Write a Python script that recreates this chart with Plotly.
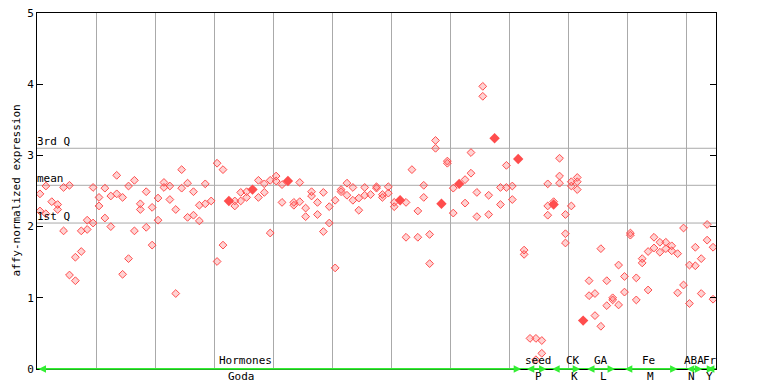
import plotly.graph_objects as go

# ---- data ----
rep_a = [2.46, 2.57, 2.35, 2.31, 2.55, 2.58, 1.57, 1.94, 2.09, 2.55,
         2.41, 2.54, 2.43, 2.72, 2.41, 2.57, 2.65, 2.32, 2.49, 2.27,
         2.40, 2.62, 2.57, 2.24, 2.80, 2.61, 2.49, 2.30, 2.60, 2.36,
         2.89, 2.80, None, 2.36, 2.48, 2.49, None, 2.65, 2.60, 2.65,
         2.71, 2.59, None, 2.34, 2.62, 2.26, 2.49, 2.34, 2.48, 2.28,
         2.37, 2.52, 2.61, 2.55, 2.40, 2.55, 2.45, 2.56, 2.45, 2.56,
         2.34, None, 2.34, 2.80, 2.22, 2.58, 1.89, 3.21, None, 2.92,
         2.54, None, 2.66, 3.04, 2.48, 3.97, 2.44, None, 2.55, 2.86,
         2.57, None, 1.67, 0.43, 0.43, 0.40, 2.60, 2.35, 2.96, 2.17,
         2.63, 2.69, None, 1.24, 1.06, 1.69, 1.24, 1.00, 1.46, 1.30,
         1.91, 1.28, 1.55, 1.65, 1.85, 1.78, 1.78, 1.73, 1.62, 1.98,
         1.46, 1.71, 1.55, 2.03, 1.71]
rep_b = [2.22, 2.18, None, 2.24, 1.94, 1.32, 1.24, 1.65, 1.96, 2.05,
         2.29, 2.12, 2.00, 2.46, 1.33, 1.55, 1.94, 2.24, 1.99, 1.74,
         2.09, 2.55, 2.38, 1.06, 2.54, 2.13, 2.16, 2.08, 2.32, None,
         1.51, 1.74, None, 2.29, 2.36, 2.41, None, 2.41, 2.48, 1.91,
         2.64, 2.34, None, 2.30, 2.35, 2.14, 2.43, 2.17, 1.93, 2.05,
         1.42, 2.49, 2.44, 2.37, 2.23, 2.44, None, 2.54, 2.41, 2.47,
         2.28, None, 1.85, None, 1.85, 2.41, 1.48, 3.10, None, 2.89,
         2.19, None, 2.33, 2.75, 2.14, 3.83, 2.17, None, 2.31, 2.55,
         2.38, None, 1.61, None, 0.13, 0.22, 2.29, None, 2.71, 1.90,
         2.57, 2.63, None, 1.03, 0.75, 0.60, 0.89, 0.97, 0.90, 1.08,
         1.88, 0.97, 1.49, 1.11, 1.70, 1.64, 1.69, 1.66, 1.07, 1.18,
         0.92, 1.45, 1.06, 1.81, 0.98]
rep_c_idx = [86, 88, 89, 90, 91]
rep_c_val = [2.16, 2.61, 1.77, 2.29, 2.52]
filled_idx = [32, 36, 42, 61, 68, 71, 77, 81, 87, 92]
filled_val = [2.36, 2.52, 2.64, 2.37, 2.32, 2.60, 3.24, 2.95, 2.31, 0.68]

quartile_names = ["3rd Q", "mean", "1st Q"]
quartile_vals = [3.10, 2.58, 2.05]

group_top = ["Hormones", "seed", "CK", "GA", "Fe", "ABA", "Fr"]
group_bottom = ["Goda", "P", "K", "L", "M", "N", "Y"]
group_start = [0.0, 82.7, 87.0, 92.9, 99.3, 109.8, 113.2]
group_end = [82.0, 86.3, 92.0, 97.9, 108.5, 112.7, 114.7]
top_label_x = [35.3, 84.9, 90.7, 95.6, 103.6, 111.2, 113.9]
bottom_label_x = [34.6, 84.9, 91.0, 95.9, 103.9, 110.8, 113.9]

n_samples = len(rep_a)
xs = [i + 0.5 for i in range(n_samples)]

RED = "#ff4d4d"
FONT = "DejaVu Sans Mono"

# page body has an 8px default margin: compensate in the figure margins
ML, MR, MT, MB = 29, 60, 5, 22.5
PLOT_W = 768 - ML - MR

fig = go.Figure()
hollow = dict(symbol="diamond", size=6, color="rgba(255,77,77,0.25)",
              line=dict(color=RED, width=1))
fig.add_trace(go.Scatter(x=xs, y=rep_a, mode="markers", marker=hollow, showlegend=False))
fig.add_trace(go.Scatter(x=xs, y=rep_b, mode="markers", marker=hollow, showlegend=False))
fig.add_trace(go.Scatter(x=[i + 0.5 for i in rep_c_idx], y=rep_c_val, mode="markers",
                         marker=hollow, showlegend=False))
fig.add_trace(go.Scatter(x=[i + 0.5 for i in filled_idx], y=filled_val, mode="markers",
                         marker=dict(symbol="diamond", size=8, color=RED, line=dict(width=0)),
                         showlegend=False))

shapes = []
for v in quartile_vals:
    shapes.append(dict(type="line", xref="paper", x0=0, x1=1, yref="y", y0=v, y1=v,
                       line=dict(color="#aaaaaa", width=1), layer="below"))
shapes.append(dict(type="line", xref="paper", x0=0, x1=1, yref="y", y0=0, y1=0,
                   line=dict(color="#33ee33", width=2)))

annotations = []
for name, v in zip(quartile_names, quartile_vals):
    annotations.append(dict(xref="paper", x=0, xanchor="left", yref="y", y=v, yanchor="bottom",
                            text=name, showarrow=False, font=dict(family=FONT, size=11, color="black"),
                            borderpad=0, xshift=-1, yshift=-1))
for s, e in zip(group_start, group_end):
    annotations.append(dict(xref="x", yref="y", x=e, y=0, axref="x", ayref="y", ax=s, ay=0,
                            text="", showarrow=True, arrowside="end+start", arrowhead=2,
                            arrowsize=1, arrowwidth=1.5, arrowcolor="#33ee33", standoff=0,
                            startstandoff=0))
for t, x in zip(group_top, top_label_x):
    annotations.append(dict(xref="x", x=x, yref="y", y=0, yanchor="bottom", text=t,
                            showarrow=False, font=dict(family=FONT, size=11, color="black"),
                            borderpad=0, yshift=1))
for t, x in zip(group_bottom, bottom_label_x):
    annotations.append(dict(xref="x", x=x, yref="y", y=0, yanchor="top", text=t,
                            showarrow=False, font=dict(family=FONT, size=11, color="black"),
                            borderpad=0, yshift=0))
annotations.append(dict(xref="paper", x=-ML / PLOT_W, xanchor="left", yref="paper", y=0.5,
                        yanchor="middle", text="affy-normalized expression", textangle=-90,
                        showarrow=False, borderpad=0,
                        font=dict(family=FONT, size=11, color="black")))

fig.update_layout(
    width=768, height=384,
    margin=dict(l=ML, r=MR, t=MT, b=MB),
    paper_bgcolor="white", plot_bgcolor="white",
    shapes=shapes, annotations=annotations,
    xaxis=dict(range=[0, n_samples], dtick=10, tick0=0, showgrid=True, gridcolor="#aaaaaa",
               gridwidth=1, showticklabels=False, ticks="", zeroline=False, automargin=False,
               showline=True, linecolor="black", linewidth=1, mirror=True),
    yaxis=dict(range=[0, 5], dtick=1, showgrid=False, zeroline=False, automargin=False,
               showline=True, linecolor="black", linewidth=1, mirror="ticks",
               ticks="inside", ticklen=6, tickcolor="black", ticklabeloverflow="allow",
               tickfont=dict(family=FONT, size=11, color="black")),
)

fig.write_html("out.html")
